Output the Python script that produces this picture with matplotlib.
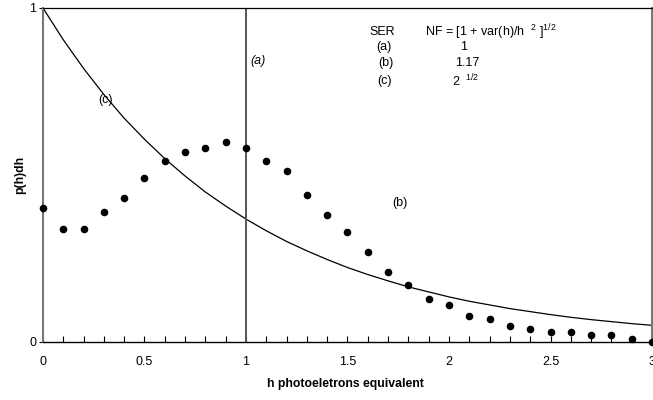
import matplotlib
matplotlib.use("Agg")
import matplotlib.pyplot as plt
from matplotlib.ticker import MultipleLocator

plt.rcParams['font.family'] = ['Liberation Sans', 'DejaVu Sans']

# SER (b): measured points
h_points = [0.0, 0.1, 0.2, 0.3, 0.4, 0.5, 0.6, 0.7, 0.8, 0.9, 1.0,
            1.1, 1.2, 1.3, 1.4, 1.5, 1.6, 1.7, 1.8, 1.9, 2.0,
            2.1, 2.2, 2.3, 2.4, 2.5, 2.6, 2.7, 2.8, 2.9, 3.0]
p_points = [0.401, 0.339, 0.339, 0.390, 0.430, 0.490, 0.541, 0.570, 0.580, 0.600, 0.580,
            0.541, 0.511, 0.440, 0.380, 0.330, 0.269, 0.210, 0.170, 0.130, 0.110,
            0.079, 0.069, 0.049, 0.040, 0.029, 0.029, 0.020, 0.020, 0.009, 0.0]

# SER (c): curve
h_curve = h_points
p_curve = [1.000, 0.905, 0.819, 0.741, 0.670, 0.607, 0.549, 0.497, 0.449, 0.407, 0.368,
           0.333, 0.301, 0.273, 0.247, 0.223, 0.202, 0.183, 0.165, 0.150, 0.135,
           0.122, 0.111, 0.100, 0.091, 0.082, 0.074, 0.067, 0.061, 0.055, 0.050]

# SER (a): delta at h = 1
h_delta = [1.0, 1.0]
p_delta = [0.0, 1.0]

legend_rows = ["(a)", "(b)", "(c)"]
legend_nf = ["1", "1.17", r"2 $^{\ \mathregular{1/2}}$"]

fig = plt.figure(figsize=(6.53, 4.0), dpi=100)
ax = fig.add_axes([0.0658, 0.145, 0.9327, 0.835])

ax.plot(h_curve, p_curve, color='black', lw=0.9)
ax.plot(h_delta, p_delta, color='#555555', lw=1.4)
ax.scatter(h_points, p_points, s=20, color='black', zorder=3, clip_on=False)

ax.set_xlim(0, 3)
ax.set_ylim(0, 1)
ax.xaxis.set_minor_locator(MultipleLocator(0.1))
ax.set_xticks([0, 0.5, 1, 1.5, 2, 2.5, 3])
ax.set_xticklabels(['0', '0.5', '1', '1.5', '2', '2.5', '3'])
ax.set_yticks([0, 1])
ax.set_yticklabels(['0', '1'])
ax.tick_params(axis='x', which='both', direction='in', length=4, width=0.8,
               labelsize=9, pad=10)
ax.tick_params(axis='y', direction='out', length=3, width=0.8, labelsize=9, pad=2)

for s in ['left', 'right']:
    ax.spines[s].set_color('#777777')
    ax.spines[s].set_linewidth(1.5)
ax.spines['top'].set_color('black')
ax.spines['top'].set_linewidth(0.9)
ax.spines['bottom'].set_color('black')
ax.spines['bottom'].set_linewidth(1.0)

ax.set_xlabel('h photoeletrons equivalent', fontsize=8.8, fontweight='bold')
ax.xaxis.set_label_coords(0.497, -0.108)
ax.set_ylabel('p(h)dh', fontsize=8.8, fontweight='bold')
ax.yaxis.set_label_coords(-0.028, 0.5)

ax.text(0.31, 0.725, '(c)', fontsize=9, ha='center', va='center')
ax.text(1.06, 0.84, '(a)', fontsize=9, style='italic', ha='center', va='center')
ax.text(1.76, 0.416, '(b)', fontsize=9, ha='center', va='center')

ax.text(1.67, 0.928, 'SER', fontsize=9, ha='center', va='center')
ax.text(1.88, 0.928, r'NF = [1 + var(h)/h  $^{\mathregular{2}}$ ]$^{\mathregular{1/2}}$',
        fontsize=9, ha='left', va='center')
row_y = [0.882, 0.834, 0.780]
row_x = [1.68, 1.69, 1.68]
nf_x = [2.07, 2.09, 2.08]
for lab, nf, y, rx, nx in zip(legend_rows, legend_nf, row_y, row_x, nf_x):
    ax.text(rx, y, lab, fontsize=9, ha='center', va='center')
    ax.text(nx, y, nf, fontsize=9, ha='center', va='center')

fig.savefig('out.png', dpi=100)
